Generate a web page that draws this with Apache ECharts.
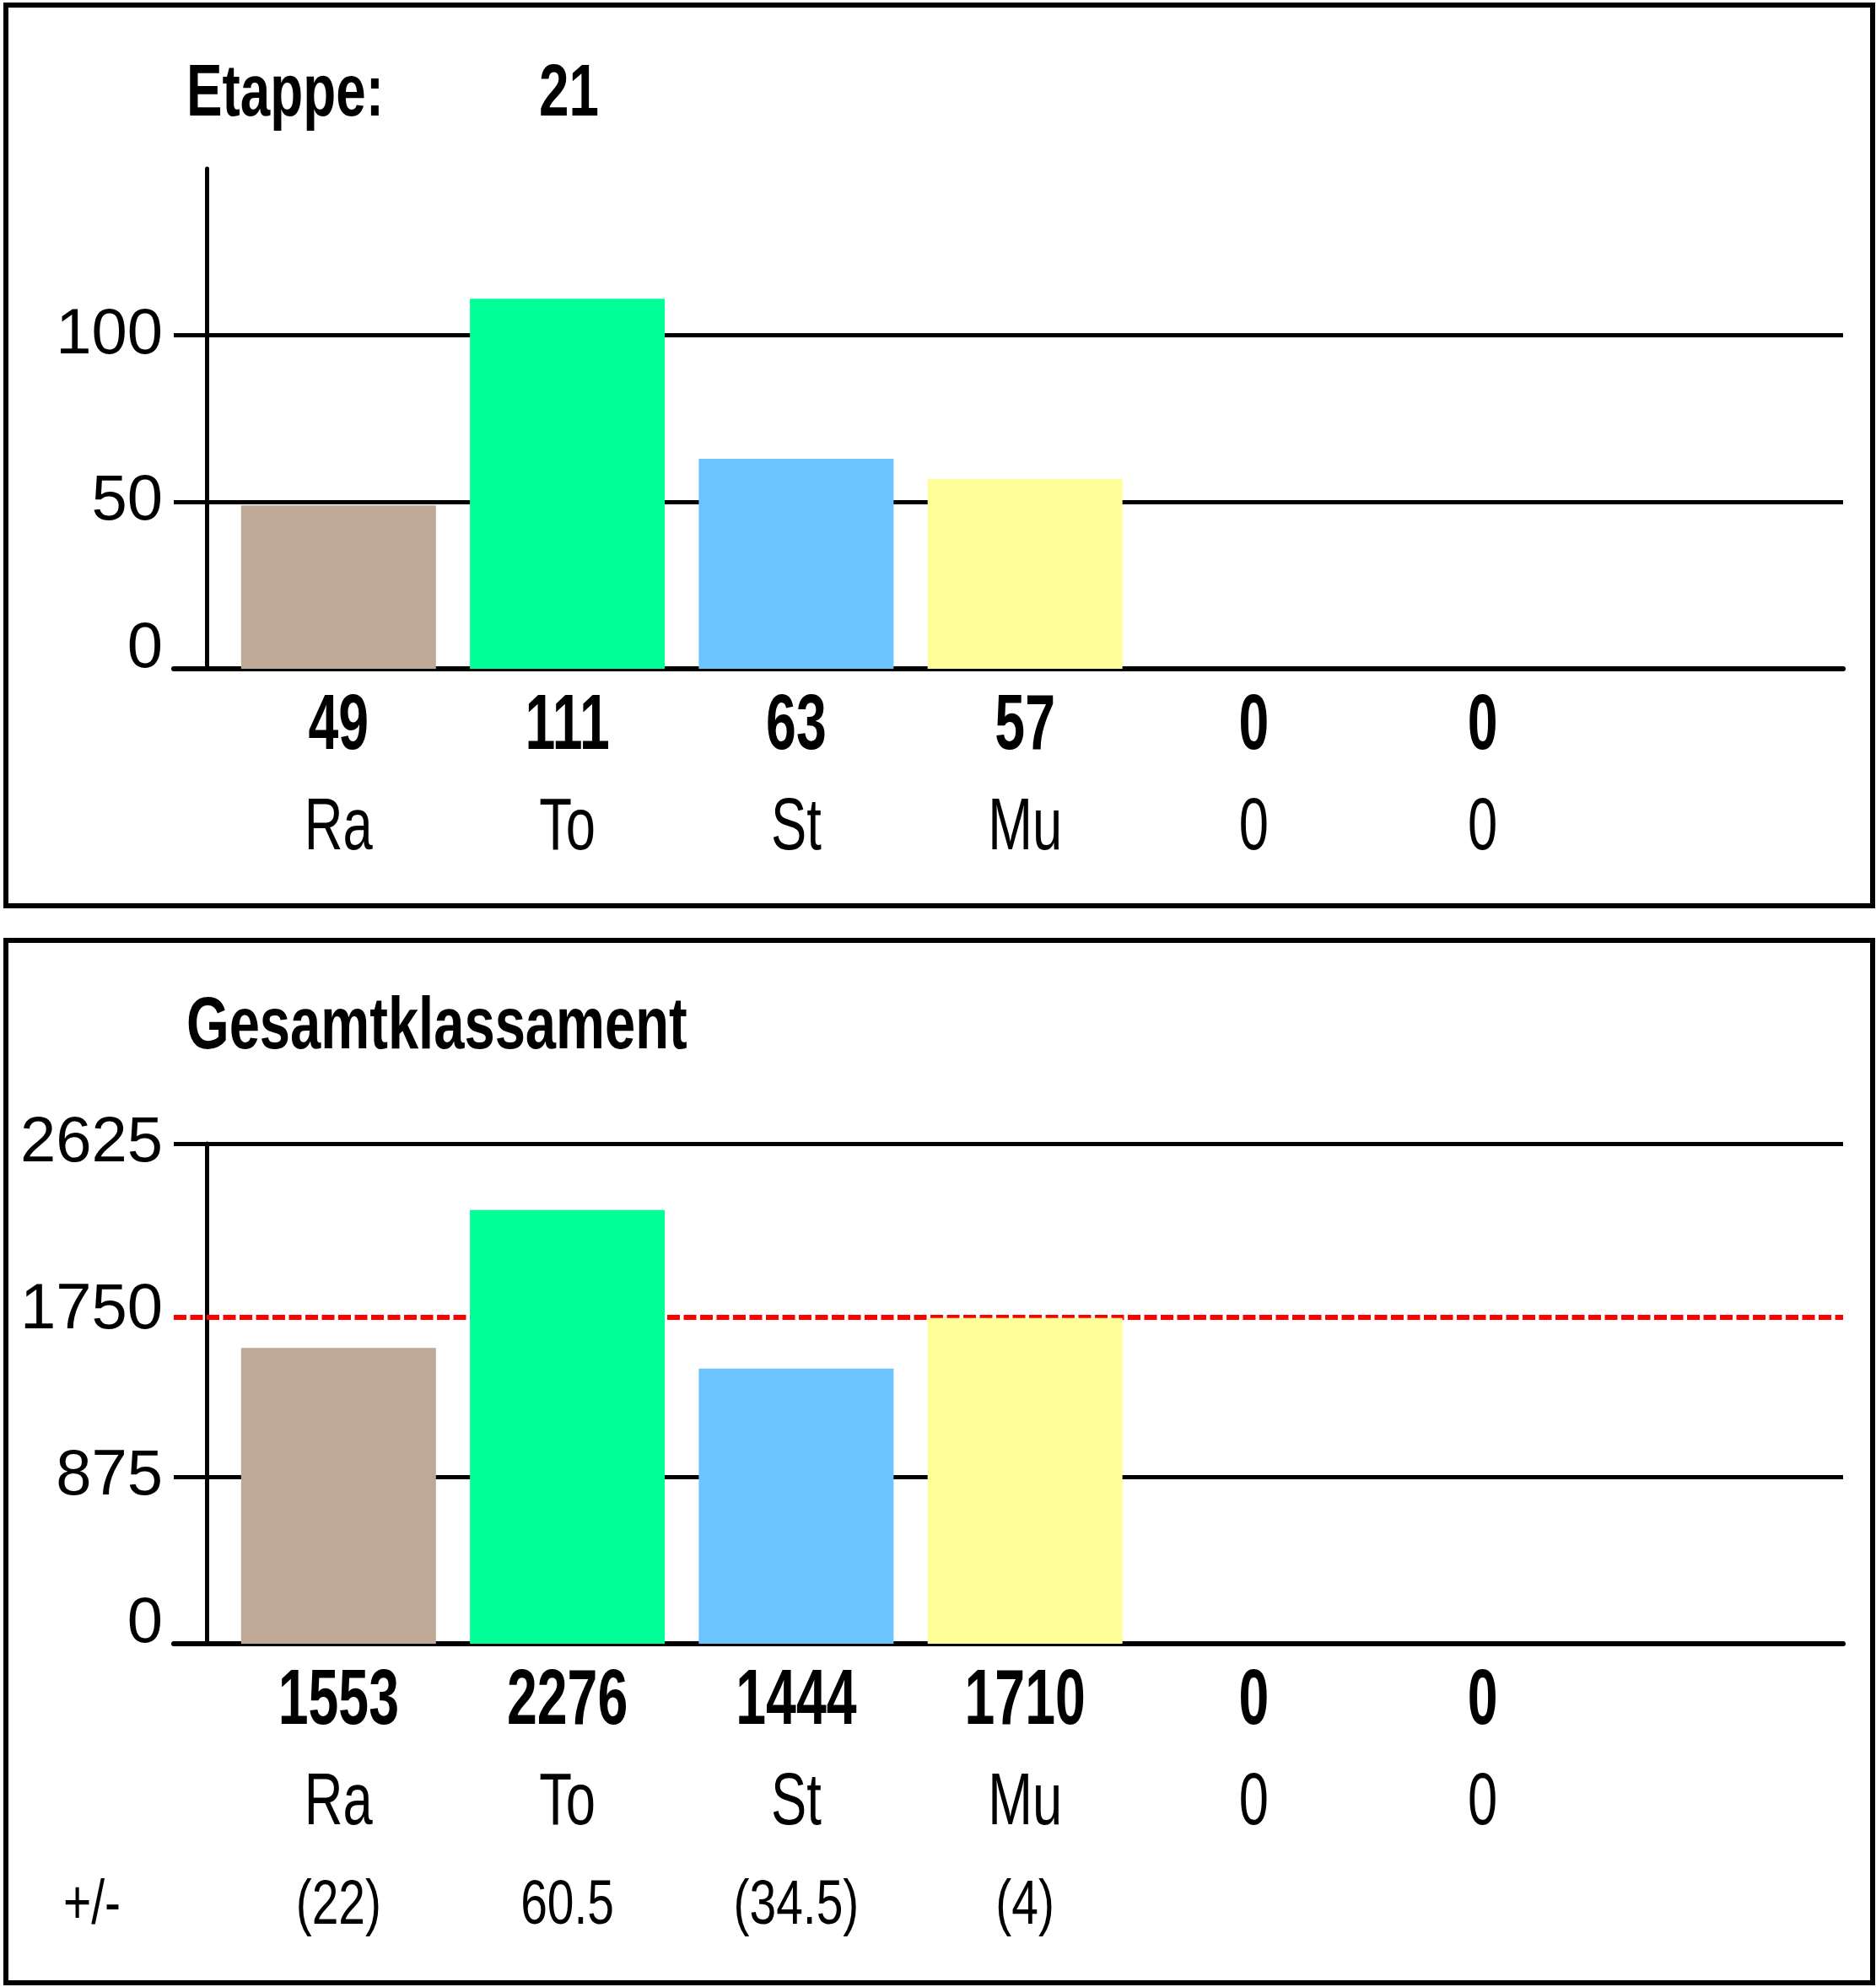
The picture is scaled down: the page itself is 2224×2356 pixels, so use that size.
<!DOCTYPE html>
<html>
	<head>
		<meta http-equiv="Content-Type" content="text/html; charset=utf-8" />
		<title>Etappe 21</title>
		<script type="text/javascript" src="https://cdn.jsdelivr.net/npm/echarts@6/dist/echarts.min.js"></script>
		<style>
			html, body { margin: 0; padding: 0; background: #fff; }
			#infoChart { width: 2224px; height: 2356px; }
		</style>
	</head>
	<body>
		<div id="infoChart"></div>
		<script type="text/javascript">
			// data
			var categories = ['Ra', 'To', 'St', 'Mu', '0', '0'];
			var stageValues = [49, 111, 63, 57, 0, 0];
			var totalValues = [1553, 2276, 1444, 1710, 0, 0];
			var totalDiffs = ['(22)', '60.5', '(34.5)', '(4)', '', ''];
			var barColors = ['#BEA996', '#00FF96', '#6CC4FF', '#FFFF99', '#BEA996', '#00FF96'];
			var stageNo = '21';
			var stageTicks = [0, 50, 100, 150];
			var totalTicks = [0, 875, 1750, 2625];
			var totalMarkValue = 1716;

			// Arial-like font, squeezed horizontally like the original narrow face
			var FONT = "'Liberation Sans', Arial, sans-serif";
			var positions = categories.map(function (c, i) { return i + 1; });

			function barData(values) {
				return values.map(function (v, i) {
					return { value: [positions[i], v], itemStyle: { color: barColors[i] } };
				});
			}

			function narrowText(x, y, text, size, bold, sx, align) {
				return {
					type: 'text',
					x: x,
					y: y,
					scaleX: sx,
					style: {
						text: text,
						font: (bold ? 'bold ' : '') + size + 'px ' + FONT,
						fill: '#000',
						align: align || 'center',
						verticalAlign: 'middle'
					}
				};
			}

			// labels under each bar, placed from the bar's own x coordinate
			function labelSeries(axisIndex, values, diffs) {
				return {
					type: 'custom',
					xAxisIndex: axisIndex,
					yAxisIndex: axisIndex,
					silent: true,
					clip: false,
					data: positions.map(function (p) { return [p, 0]; }),
					renderItem: function (params, api) {
						var i = params.dataIndex;
						var pt = api.coord([api.value(0), 0]);
						var kids = [
							narrowText(pt[0], pt[1] + 70, String(values[i]), 92, true, 0.70),
							narrowText(pt[0], pt[1] + 190, categories[i], 88, false, 0.72)
						];
						if (diffs && diffs[i]) {
							kids.push(narrowText(pt[0], pt[1] + 312, diffs[i], 74, false, 0.77));
						}
						return { type: 'group', children: kids };
					}
				};
			}

			function makeXAxis(gridIndex) {
				return {
					type: 'value',
					gridIndex: gridIndex,
					min: 0.28,
					max: 7.575,
					axisLine: { show: true, onZero: false, lineStyle: { color: '#000', width: 6 } },
					axisTick: { show: false },
					splitLine: { show: false },
					axisLabel: { show: false }
				};
			}

			function makeYAxis(gridIndex, ticks, colors, showMax) {
				return {
					type: 'value',
					gridIndex: gridIndex,
					min: ticks[0],
					max: ticks[ticks.length - 1],
					interval: ticks[1] - ticks[0],
					offset: -39,
					axisLine: { show: true, onZero: false, lineStyle: { color: '#000', width: 5 } },
					axisTick: { show: false },
					splitLine: {
						show: true,
						showMaxLine: showMax,
						lineStyle: { color: colors, width: 5 }
					},
					axisLabel: {
						showMaxLabel: showMax,
						margin: 52,
						fontFamily: FONT,
						fontSize: 76,
						color: '#000',
						formatter: function (v) {
							return v === 0 ? '{z|0}' : String(v);
						},
						rich: {
							z: { fontFamily: FONT, fontSize: 76, color: '#000', padding: [0, 0, 46, 0] }
						}
					}
				};
			}

			var option = {
				animation: false,
				backgroundColor: '#fff',
				graphic: [
					{ type: 'rect', shape: { x: 7, y: 6, width: 2213, height: 1068 }, style: { fill: 'none', stroke: '#000', lineWidth: 6 }, z: 10 },
					{ type: 'rect', shape: { x: 7, y: 1115, width: 2213, height: 1236 }, style: { fill: 'none', stroke: '#000', lineWidth: 6 }, z: 10 },
					narrowText(221, 113, 'Etappe:', 88, true, 0.725, 'left'),
					narrowText(639, 113, stageNo, 88, true, 0.725, 'left'),
					narrowText(221, 1219, 'Gesamtklassament', 88, true, 0.74, 'left'),
					narrowText(75, 2261, '+/-', 74, false, 0.77, 'left')
				],
				grid: [
					{ left: 206, top: 200, width: 1979, height: 593 },
					{ left: 206, top: 1356, width: 1979, height: 593 }
				],
				xAxis: [makeXAxis(0), makeXAxis(1)],
				yAxis: [
					makeYAxis(0, stageTicks, ['#000'], false),
					makeYAxis(1, totalTicks, ['#000', '#000', 'rgba(0,0,0,0)', '#000'], true)
				],
				series: [
					{
						name: 'Etappe',
						type: 'bar',
						xAxisIndex: 0,
						yAxisIndex: 0,
						barWidth: 231,
						data: barData(stageValues)
					},
					{
						name: 'Gesamt',
						type: 'bar',
						xAxisIndex: 1,
						yAxisIndex: 1,
						barWidth: 231,
						data: barData(totalValues),
						markLine: {
							silent: true,
							symbol: ['none', 'none'],
							z: 1,
							label: { show: false },
							lineStyle: { color: '#FF0000', type: [15, 4.5], width: 6 },
							data: [{ yAxis: totalMarkValue }]
						}
					},
					labelSeries(0, stageValues, null),
					labelSeries(1, totalValues, totalDiffs)
				]
			};

			var mychart = echarts.init(document.getElementById('infoChart'));
			mychart.setOption(option);
		</script>
	</body>
</html>
